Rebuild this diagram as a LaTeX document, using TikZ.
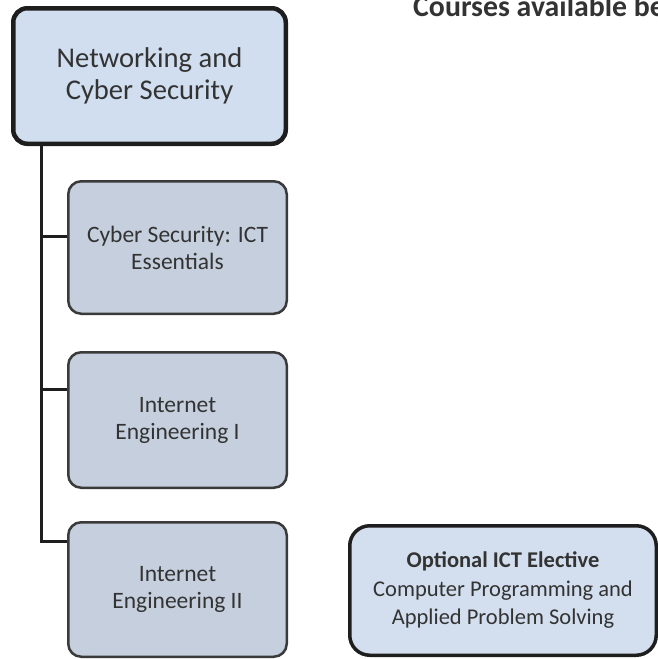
\documentclass[tikz,border=0pt]{standalone}
\usepackage{fontspec}
\setmainfont{Carlito}
\definecolor{topfill}{HTML}{D0DEEF}
\definecolor{subfill}{HTML}{C5CFDD}
\definecolor{optfill}{HTML}{D3DFEE}
\definecolor{darkline}{HTML}{1E1E1E}
\definecolor{subline}{HTML}{3A3A3A}
\definecolor{txt}{HTML}{333333}
\begin{document}
\begin{tikzpicture}[x=1pt,y=-1pt,
  mainbox/.style={draw=darkline,line width=4.5pt,fill=topfill,rounded corners=14pt,
    minimum width=272.5pt,minimum height=135.5pt,align=center,text=txt,
    font=\fontsize{28.6}{32}\selectfont,inner sep=0pt},
  subbox/.style={draw=subline,line width=2.5pt,fill=subfill,rounded corners=13pt,
    minimum width=218.5pt,align=center,text=txt,
    font=\fontsize{23.5}{27}\selectfont,inner sep=0pt},
  optbox/.style={draw=darkline,line width=3.5pt,fill=optfill,rounded corners=20pt,
    minimum width=306.5pt,minimum height=129.5pt,align=center,text=txt,
    font=\fontsize{22.5}{28.5}\selectfont,inner sep=0pt},
  conn/.style={draw=darkline,line width=3pt}]
\useasboundingbox (0,0) rectangle (658,659);
\node[mainbox] (top) at (149.5,76) {Networking and\\Cyber Security};
\node[subbox,minimum height=132.5pt] (b2) at (177.5,247.5) {Cyber Security: ICT\\Essentials};
\node[subbox,minimum height=135.5pt] (b3) at (177.5,420) {Internet\\Engineering I};
\node[subbox,minimum height=134.5pt] (b4) at (177.5,589.5) {Internet\\Engineering II};
\node[optbox] (opt) at (503,590.5) {\textbf{Optional ICT Elective}\\Computer Programming and\\Applied Problem Solving};
\node[anchor=base west,inner sep=0pt,text=txt,font=\fontsize{29.8}{33}\selectfont\bfseries] (title) at (413,16) {Courses available be};
\coordinate (t0) at (41,145);
\coordinate (j1) at (41,236);
\coordinate (j2) at (41,389);
\coordinate (j3) at (41,541);
\draw[conn] (t0) -- (j3) -- (b4.west |- j3);
\draw[conn] (j1) -- (b2.west |- j1);
\draw[conn] (j2) -- (b3.west |- j2);
\end{tikzpicture}
\end{document}
